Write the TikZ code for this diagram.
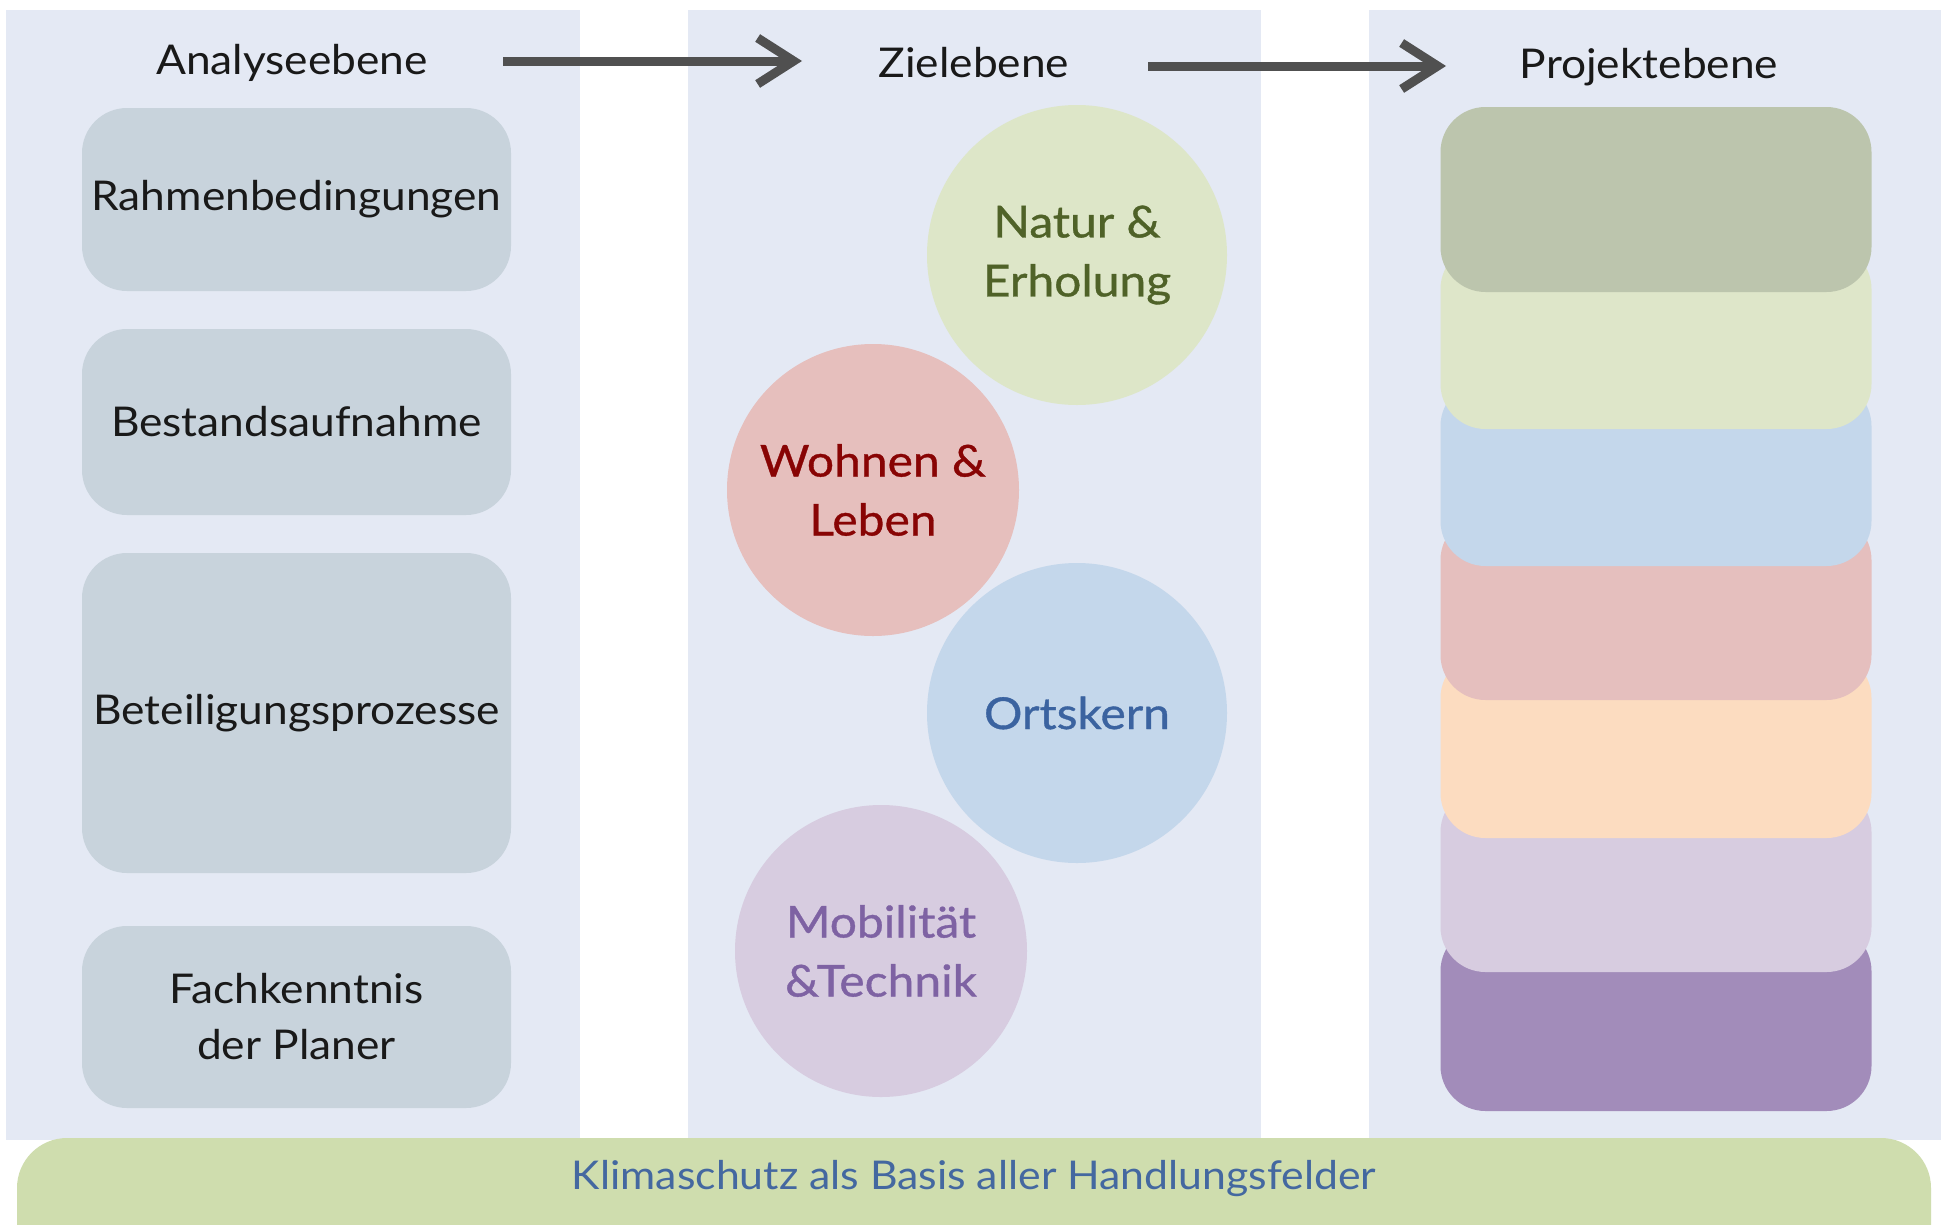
\documentclass[tikz,border=0pt]{standalone}
\usepackage{fontspec}
\setmainfont[FakeStretch=1.08]{Lato}
\newfontfamily\circfont[FakeBold=0.8,FakeStretch=1.09]{Lato}
\usetikzlibrary{arrows.meta}
\definecolor{panelbg}{HTML}{E4E9F4}
\definecolor{boxgray}{HTML}{C8D3DC}
\definecolor{arrowgray}{HTML}{505050}
\definecolor{natfill}{HTML}{DDE6C8}
\definecolor{nattext}{HTML}{4F6228}
\definecolor{wohfill}{HTML}{E6BFBD}
\definecolor{wohtext}{HTML}{880404}
\definecolor{ortfill}{HTML}{C4D7EB}
\definecolor{orttext}{HTML}{3B63A0}
\definecolor{mobfill}{HTML}{D7CCE0}
\definecolor{mobtext}{HTML}{7E62A3}
\definecolor{barfill}{HTML}{CFDDAE}
\definecolor{bartext}{HTML}{4468A0}
\definecolor{sA}{HTML}{BCC5AD}
\definecolor{sB}{HTML}{DEE6C9}
\definecolor{sC}{HTML}{C4D7EB}
\definecolor{sD}{HTML}{E5BFBE}
\definecolor{sE}{HTML}{FCDCC0}
\definecolor{sF}{HTML}{D7CCE0}
\definecolor{sG}{HTML}{A28CBA}
\begin{document}
\begin{tikzpicture}[x=1pt,y=-1pt,
  txt/.style={font=\fontsize{41}{56}\selectfont, text=black!90, align=center, inner sep=0pt},
  anabox/.style={fill=boxgray, rounded corners=45pt, minimum width=429pt, inner sep=0pt, txt},
  goal/.style={circle, inner sep=0pt, font=\circfont\fontsize{44}{59}\selectfont, align=center},
  stackbox/.style={rounded corners=45pt, minimum width=431pt, minimum height=185pt, inner sep=0pt},
  flow/.style={arrowgray, line width=9pt, -{Straight Barb[length=36pt,width=46pt]}},
  basebar/.style={fill=barfill, rounded corners=50pt, minimum width=1914pt, minimum height=170pt, inner sep=0pt}
]
\useasboundingbox (0,0) rectangle (1941,1224);
\fill[white] (0,0) rectangle (1941,1224);
% panels
\fill[panelbg] (6,10) rectangle (580,1140);
\fill[panelbg] (688,10) rectangle (1261,1140);
\fill[panelbg] (1369,10) rectangle (1941,1140);
% headings
\node[txt] (ana) at (292,63) {Analyseebene};
\node[txt] (ziel) at (974,63) {Zielebene};
\node[txt] (proj) at (1649,67) {Projektebene};
\coordinate (a1s) at (503,61);
\coordinate (a1e) at (802,61);
\coordinate (a2s) at (1148,66);
\coordinate (a2e) at (1446,66);
\draw[flow] (a1s) -- (a1e);
\draw[flow] (a2s) -- (a2e);
% analysis boxes
\node[anabox, minimum height=183pt] (rahmen) at (296.5,199.5) {Rahmenbedingungen};
\node[anabox, minimum height=186pt] (bestand) at (296.5,422) {Bestandsaufnahme};
\node[anabox, minimum height=320pt] (beteil) at (296.5,713) {Beteiligungsprozesse};
\node[anabox, minimum height=182pt] (fach) at (296.5,1017) {Fachkenntnis\\der Planer};
% goal circles
\node[goal, fill=natfill, text=nattext, minimum size=300pt] (natur) at (1077,255) {Natur \&\\Erholung};
\node[goal, fill=wohfill, text=wohtext, minimum size=292pt] (wohnen) at (873,490) {Wohnen \&\\Leben};
\node[goal, fill=ortfill, text=orttext, minimum size=300pt] (ortskern) at (1077,713) {Ortskern};
\node[goal, fill=mobfill, text=mobtext, minimum size=292pt] (mobil) at (881,951) {Mobilität\\\&Technik};
% project stack
\node[stackbox, fill=sG] (p7) at (1656,1018.5) {};
\node[stackbox, fill=sF] (p6) at (1656,879.5) {};
\node[stackbox, fill=sE] (p5) at (1656,745.5) {};
\node[stackbox, fill=sD] (p4) at (1656,607.5) {};
\node[stackbox, fill=sC] (p3) at (1656,473.5) {};
\node[stackbox, fill=sB] (p2) at (1656,336.5) {};
\node[stackbox, fill=sA] (p1) at (1656,199.5) {};
% base bar
\node[basebar] (bar) at (974,1223) {};
\node[txt, text=bartext, font=\fontsize{39.6}{50}\selectfont] (klima) at (974,1179) {Klimaschutz als Basis aller Handlungsfelder};
\end{tikzpicture}
\end{document}
